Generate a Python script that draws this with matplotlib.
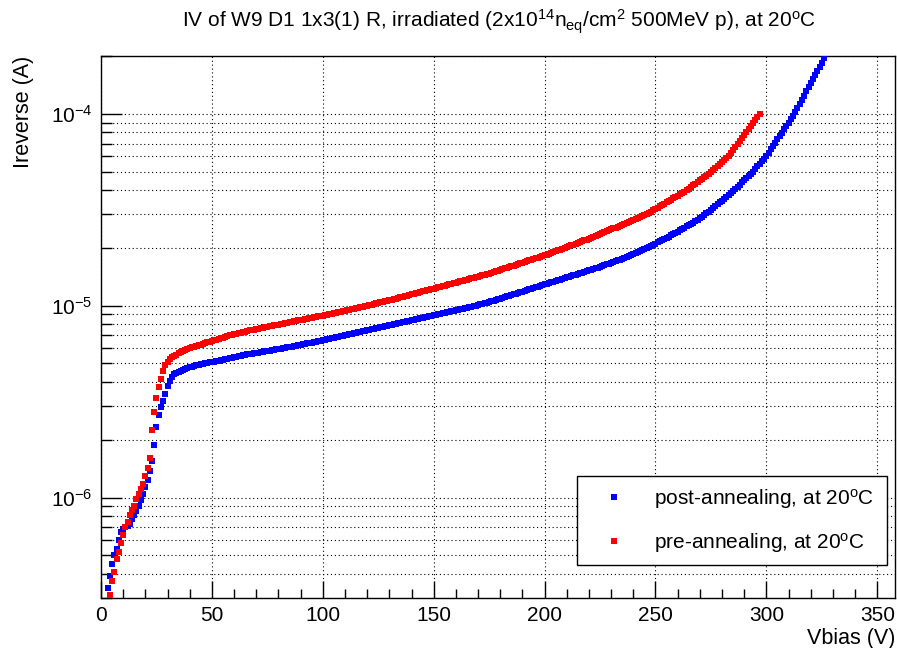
import numpy as np
import matplotlib
matplotlib.use("Agg")
import matplotlib.pyplot as plt
from matplotlib.ticker import MultipleLocator, LogLocator, NullFormatter

# bias sweep, 1 V steps
volts_post = np.arange(3, 327)
volts_pre = np.arange(4, 298)

# reverse current in uA
current_post_uA = [
    0.34, 0.39, 0.45, 0.50, 0.54, 0.60, 0.66, 0.69, 0.70, 0.71,
    0.73, 0.77, 0.81, 0.85, 0.90, 0.97, 1.04, 1.13, 1.24, 1.38,
    1.56, 1.87, 2.33, 2.70, 2.98, 3.19, 3.48, 3.81, 4.05, 4.27,
    4.40, 4.47, 4.53, 4.59, 4.64, 4.69, 4.74, 4.78, 4.82, 4.86,
    4.89, 4.92, 4.95, 4.98, 5.01, 5.04, 5.06, 5.09, 5.12, 5.15,
    5.18, 5.21, 5.24, 5.27, 5.30, 5.33, 5.37, 5.40, 5.43, 5.46,
    5.48, 5.51, 5.54, 5.57, 5.59, 5.62, 5.65, 5.68, 5.70, 5.73,
    5.76, 5.78, 5.81, 5.84, 5.86, 5.89, 5.92, 5.95, 5.97, 6.00,
    6.03, 6.06, 6.10, 6.13, 6.16, 6.20, 6.23, 6.26, 6.29, 6.33,
    6.36, 6.39, 6.42, 6.46, 6.49, 6.52, 6.56, 6.59, 6.63, 6.67,
    6.71, 6.75, 6.79, 6.83, 6.88, 6.92, 6.96, 7.00, 7.04, 7.09,
    7.13, 7.17, 7.22, 7.26, 7.31, 7.35, 7.40, 7.44, 7.49, 7.53,
    7.58, 7.63, 7.67, 7.72, 7.77, 7.82, 7.86, 7.91, 7.96, 8.01,
    8.06, 8.11, 8.16, 8.21, 8.26, 8.31, 8.36, 8.41, 8.46, 8.51,
    8.56, 8.61, 8.65, 8.70, 8.75, 8.80, 8.85, 8.90, 8.95, 9.01,
    9.06, 9.12, 9.17, 9.23, 9.29, 9.35, 9.41, 9.47, 9.53, 9.59,
    9.65, 9.71, 9.77, 9.83, 9.89, 9.96, 10.02, 10.09, 10.16, 10.23,
    10.30, 10.37, 10.44, 10.53, 10.62, 10.71, 10.80, 10.89, 10.98, 11.07,
    11.17, 11.26, 11.36, 11.45, 11.55, 11.65, 11.75, 11.85, 11.95, 12.05,
    12.15, 12.26, 12.36, 12.47, 12.57, 12.68, 12.79, 12.90, 13.01, 13.12,
    13.23, 13.34, 13.45, 13.57, 13.68, 13.80, 13.91, 14.03, 14.15, 14.27,
    14.39, 14.51, 14.63, 14.75, 14.88, 15.00, 15.13, 15.26, 15.38, 15.51,
    15.65, 15.79, 15.94, 16.09, 16.24, 16.40, 16.56, 16.72, 16.88, 17.05,
    17.22, 17.40, 17.58, 17.77, 17.96, 18.16, 18.36, 18.57, 18.78, 19.00,
    19.23, 19.46, 19.70, 19.96, 20.23, 20.50, 20.78, 21.07, 21.36, 21.66,
    21.97, 22.28, 22.60, 22.93, 23.27, 23.62, 23.97, 24.33, 24.70, 25.08,
    25.47, 25.87, 26.28, 26.70, 27.13, 27.57, 28.02, 28.50, 29.00, 29.60,
    30.26, 30.93, 31.62, 32.32, 33.04, 33.77, 34.52, 35.29, 36.07, 36.87,
    37.69, 38.53, 39.54, 40.58, 41.65, 42.74, 43.87, 45.02, 46.21, 47.42,
    48.67, 49.95, 51.52, 53.15, 54.82, 56.55, 58.33, 60.17, 62.62, 65.18,
    67.84, 70.61, 73.49, 76.49, 79.61, 82.86, 86.24, 89.76, 93.42, 97.23,
    102.2, 107.3, 112.8, 118.5, 124.5, 130.8, 137.4, 144.4, 151.7, 159.4,
    167.5, 176.0, 184.9, 194.3,
]

current_pre_uA = [
    0.31, 0.37, 0.41, 0.48, 0.52, 0.58, 0.64, 0.70, 0.75, 0.81,
    0.86, 0.91, 0.98, 1.05, 1.11, 1.18, 1.30, 1.42, 1.60, 2.25,
    2.80, 3.30, 3.75, 4.15, 4.55, 4.90, 5.10, 5.27, 5.38, 5.48,
    5.56, 5.64, 5.72, 5.80, 5.88, 5.96, 6.02, 6.07, 6.12, 6.17,
    6.22, 6.27, 6.33, 6.38, 6.44, 6.49, 6.55, 6.60, 6.66, 6.71,
    6.77, 6.82, 6.88, 6.94, 7.00, 7.05, 7.09, 7.14, 7.19, 7.24,
    7.28, 7.33, 7.38, 7.43, 7.47, 7.51, 7.55, 7.60, 7.64, 7.68,
    7.72, 7.77, 7.81, 7.85, 7.90, 7.94, 7.98, 8.03, 8.07, 8.11,
    8.16, 8.20, 8.24, 8.29, 8.33, 8.38, 8.42, 8.47, 8.51, 8.56,
    8.60, 8.65, 8.70, 8.74, 8.79, 8.84, 8.89, 8.94, 8.99, 9.05,
    9.10, 9.15, 9.21, 9.26, 9.32, 9.37, 9.43, 9.48, 9.54, 9.60,
    9.65, 9.71, 9.77, 9.83, 9.89, 9.95, 10.01, 10.07, 10.14, 10.20,
    10.27, 10.33, 10.40, 10.47, 10.53, 10.60, 10.67, 10.74, 10.81, 10.88,
    10.96, 11.04, 11.12, 11.20, 11.28, 11.36, 11.44, 11.52, 11.61, 11.69,
    11.77, 11.86, 11.94, 12.03, 12.12, 12.20, 12.29, 12.38, 12.47, 12.56,
    12.65, 12.74, 12.83, 12.92, 13.01, 13.11, 13.20, 13.29, 13.39, 13.48,
    13.58, 13.68, 13.78, 13.88, 13.98, 14.08, 14.18, 14.28, 14.38, 14.49,
    14.59, 14.70, 14.83, 14.96, 15.09, 15.22, 15.36, 15.49, 15.63, 15.77,
    15.90, 16.04, 16.18, 16.33, 16.47, 16.61, 16.76, 16.91, 17.06, 17.21,
    17.36, 17.51, 17.67, 17.82, 17.98, 18.14, 18.30, 18.48, 18.67, 18.86,
    19.04, 19.23, 19.43, 19.62, 19.82, 20.02, 20.22, 20.42, 20.62, 20.83,
    21.04, 21.25, 21.46, 21.68, 21.90, 22.12, 22.34, 22.56, 22.79, 23.05,
    23.32, 23.58, 23.85, 24.13, 24.41, 24.69, 24.97, 25.26, 25.55, 25.84,
    26.14, 26.44, 26.74, 27.05, 27.36, 27.68, 28.00, 28.32, 28.64, 28.97,
    29.31, 29.64, 29.99, 30.47, 30.96, 31.46, 31.97, 32.48, 33.01, 33.54,
    34.08, 34.63, 35.18, 35.75, 36.32, 36.91, 37.50, 38.11, 38.72, 39.34,
    39.98, 40.76, 41.56, 42.38, 43.21, 44.05, 44.92, 45.80, 46.70, 47.61,
    48.55, 49.50, 50.70, 51.94, 53.20, 54.49, 55.81, 57.17, 58.56, 59.98,
    62.21, 64.53, 66.93, 69.42, 72.00, 74.68, 77.46, 80.34, 83.33, 86.43,
    89.65, 92.98, 96.44, 100.0,
]

labels = ["post-annealing, at 20$^{\\mathrm{o}}$C", "pre-annealing, at 20$^{\\mathrm{o}}$C"]
title = "IV of W9 D1 1x3(1) R, irradiated (2x10$^{14}$n$_{eq}$/cm$^{2}$ 500MeV p), at 20$^{o}$C"

plt.rcParams['font.family'] = ['Liberation Sans', 'DejaVu Sans']
plt.rcParams['mathtext.fontset'] = 'custom'
plt.rcParams['mathtext.rm'] = 'Liberation Sans'
plt.rcParams['mathtext.it'] = 'Liberation Sans:italic'
plt.rcParams['mathtext.default'] = 'regular'

fig = plt.figure(figsize=(8.97, 6.48), dpi=100)
ax = fig.add_axes([101 / 897, 50 / 648, 794 / 897, 542 / 648])

ax.plot(volts_post, np.array(current_post_uA) * 1e-6, 's', color='#0000ff',
        ms=4.2, mew=0, label=labels[0], zorder=3)
ax.plot(volts_pre, np.array(current_pre_uA) * 1e-6, 's', color='#ff0000',
        ms=4.2, mew=0, label=labels[1], zorder=3)

ax.set_yscale('log')
ax.set_xlim(0, 358)
ax.set_ylim(3.0e-7, 2.0e-4)

ax.xaxis.set_major_locator(MultipleLocator(50))
ax.xaxis.set_minor_locator(MultipleLocator(10))
ax.yaxis.set_major_locator(LogLocator(base=10, numticks=10))
ax.yaxis.set_minor_locator(LogLocator(base=10, subs=np.arange(2, 10), numticks=30))
ax.yaxis.set_minor_formatter(NullFormatter())

ax.tick_params(which='both', direction='in', top=False, right=False, width=1)
ax.tick_params(axis='x', which='major', length=12, labelsize=15, pad=6)
ax.tick_params(axis='x', which='minor', length=6.5)
ax.tick_params(axis='y', which='major', length=15, labelsize=15, pad=6)
ax.tick_params(axis='y', which='minor', length=8)

dots = (0, (1, 2.5))
ax.grid(True, which='major', axis='both', color='k', linestyle=dots, linewidth=0.8)
ax.grid(True, which='minor', axis='y', color='k', linestyle=dots, linewidth=0.8)
for s in ax.spines.values():
    s.set_linewidth(1.0)

ax.set_ylabel("Ireverse (A)", fontsize=15.5, loc='top')
ax.yaxis.set_label_coords(-0.085, 1.0)
ax.set_xlabel("Vbias (V)", fontsize=15.5, loc='right')
ax.xaxis.set_label_coords(1.0, -0.055)

fig.text(499 / 897, 1 - 27 / 648, title, ha='center', va='baseline', fontsize=15)

leg = ax.legend(loc='lower left', bbox_to_anchor=(0.600, 0.0609, 0.3895, 0.163),
                mode='expand', fontsize=15, frameon=True, fancybox=False,
                edgecolor='k', framealpha=1, borderpad=0.5, labelspacing=0.95,
                handlelength=2.5, handletextpad=0.7, borderaxespad=0)
leg.get_frame().set_linewidth(1.0)

fig.savefig('out.png', dpi=100)
